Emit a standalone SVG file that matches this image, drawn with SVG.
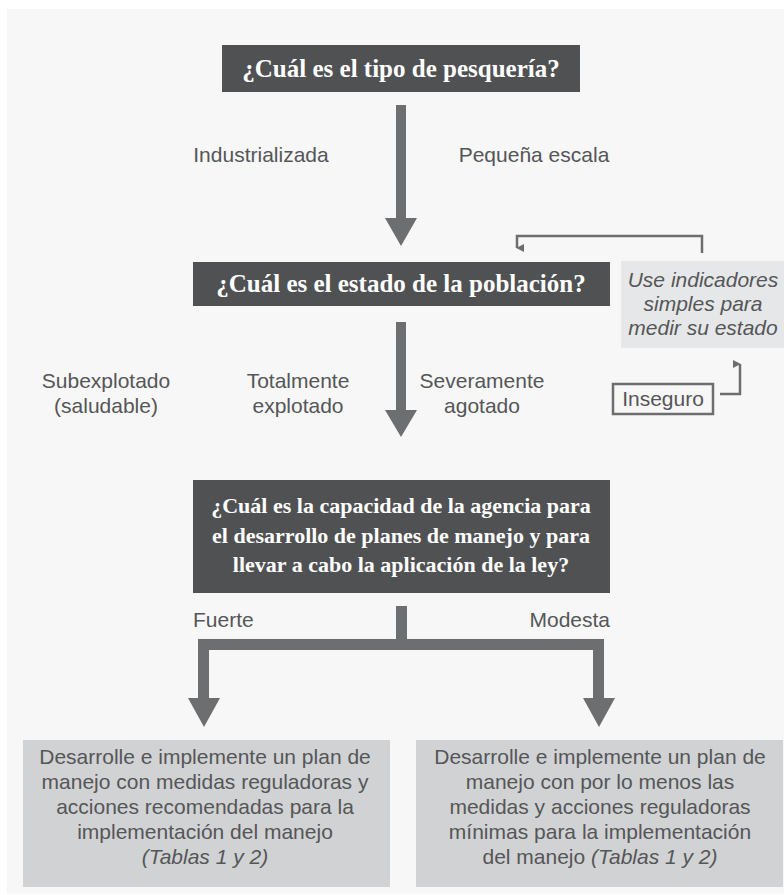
<svg xmlns="http://www.w3.org/2000/svg" width="784" height="895" viewBox="0 0 784 895">
<defs>
<style>
.q{fill:#505153}
.qt{font-family:"Liberation Serif",serif;font-weight:bold;font-size:25px;fill:#ffffff;text-anchor:middle}
.qs{font-size:22px}
.lb{font-family:"Liberation Sans",Arial,sans-serif;font-size:21px;fill:#555657;text-anchor:middle}
.bt{font-family:"Liberation Sans",Arial,sans-serif;font-size:21px;fill:#555657;text-anchor:middle}
.it{font-style:italic}
.ar{fill:#6d6e70}
.ln{fill:none;stroke:#6d6e70;stroke-width:2.5}
</style>
<marker id="sh" viewBox="0 0 10 10" refX="5" refY="9" markerWidth="3.2" markerHeight="3.2" orient="auto-start-reverse" markerUnits="strokeWidth">
<path d="M0,0 L10,0 L5,10 Z" fill="#6d6e70"/>
</marker>
</defs>
<rect x="0" y="0" width="784" height="895" fill="#ffffff"/>
<rect x="7" y="9" width="777" height="885" fill="#f7f7f7"/>

<g id="connectors">
<path class="ar" d="M396,105 H406 V218 H417 L401,246 L385,218 H396 Z"/>
<path class="ar" d="M396,322 H406 V410 H417 L401,437 L385,410 H396 Z"/>
<path class="ar" d="M396,606 H407 V639 H604 V698 H615 L599,727 L583,698 H593 V650 H209 V698 H220 L204,727 L188,698 H198 V639 H396 Z"/>
<path class="ln" d="M702,253 V236 H517 V248" marker-end="url(#sh)"/>
<path class="ln" d="M720,394 H740 V364" marker-end="url(#sh)"/>
</g>

<g id="q1">
<rect class="q" x="222" y="45" width="358" height="47"/>
<text class="qt" x="401" y="77">¿Cuál es el tipo de pesquería?</text>
</g>

<g id="lbl-industrial"><text class="lb" x="261" y="162">Industrializada</text></g>
<g id="lbl-pequena"><text class="lb" x="534" y="162">Pequeña escala</text></g>

<g id="q2">
<rect class="q" x="193" y="262" width="417" height="44"/>
<text class="qt" x="401" y="292">¿Cuál es el estado de la población?</text>
</g>

<g id="indicadores">
<rect x="621" y="261" width="163" height="87" fill="#e6e7e8"/>
<text class="bt it" x="703" y="287">Use indicadores</text>
<text class="bt it" x="703" y="311">simples para</text>
<text class="bt it" x="703" y="335">medir su estado</text>
</g>

<g id="lbl-sub"><text class="lb" x="106" y="388">Subexplotado</text><text class="lb" x="106" y="413">(saludable)</text></g>
<g id="lbl-tot"><text class="lb" x="298" y="388">Totalmente</text><text class="lb" x="298" y="413">explotado</text></g>
<g id="lbl-sev"><text class="lb" x="482" y="388">Severamente</text><text class="lb" x="482" y="413">agotado</text></g>

<g id="inseguro">
<rect x="613" y="384" width="100" height="30" fill="none" stroke="#6d6e70" stroke-width="2.5"/>
<text class="lb" x="663" y="406">Inseguro</text>
</g>

<g id="q3">
<rect class="q" x="193" y="480" width="417" height="113"/>
<text class="qt qs" x="401" y="513">¿Cuál es la capacidad de la agencia para</text>
<text class="qt qs" x="401" y="543">el desarrollo de planes de manejo y para</text>
<text class="qt qs" x="401" y="572">llevar a cabo la aplicación de la ley?</text>
</g>

<g id="lbl-fuerte"><text class="lb" x="193" y="627" style="text-anchor:start">Fuerte</text></g>
<g id="lbl-modesta"><text class="lb" x="610" y="627" style="text-anchor:end">Modesta</text></g>

<g id="res-fuerte">
<rect x="23" y="740" width="367" height="147" fill="#d1d2d4"/>
<text class="bt" x="205" y="764">Desarrolle e implemente un plan de</text>
<text class="bt" x="205" y="789">manejo con medidas reguladoras y</text>
<text class="bt" x="205" y="814">acciones recomendadas para la</text>
<text class="bt" x="205" y="839">implementación del manejo</text>
<text class="bt it" x="205" y="864">(Tablas 1 y 2)</text>
</g>

<g id="res-modesta">
<rect x="416" y="740" width="367" height="147" fill="#d1d2d4"/>
<text class="bt" x="600" y="764">Desarrolle e implemente un plan de</text>
<text class="bt" x="600" y="789">manejo con por lo menos las</text>
<text class="bt" x="600" y="814">medidas y acciones reguladoras</text>
<text class="bt" x="600" y="839">mínimas para la implementación</text>
<text class="bt" x="600" y="864">del manejo <tspan class="it">(Tablas 1 y 2)</tspan></text>
</g>
</svg>
